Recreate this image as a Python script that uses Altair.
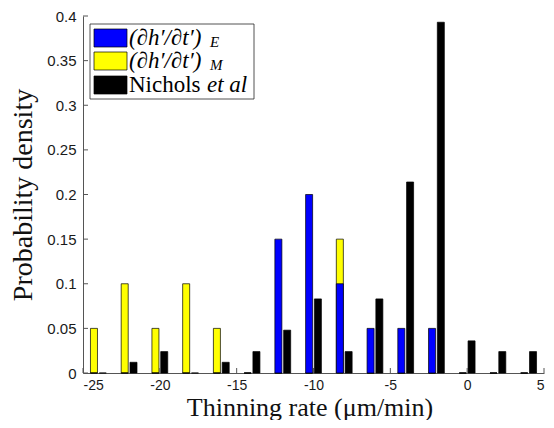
import altair as alt
import pandas as pd

# ---- data ----
bin_centers = [-24, -22, -20, -18, -16, -14, -12, -10, -8, -6, -4, -2, 0, 2, 4]
rate_E = [0, 0, 0, 0, 0, 0, 0.15, 0.2, 0.1, 0.05, 0.05, 0.05, 0, 0, 0]
rate_M = [0.05, 0.1, 0.05, 0.1, 0.05, 0, 0, 0, 0.15, 0, 0, 0, 0, 0, 0]
nichols = [0, 0.012, 0.024, 0, 0.012, 0.024, 0.048, 0.083, 0.024, 0.083,
           0.214, 0.393, 0.036, 0.024, 0.024]
x_ticks = [-25, -20, -15, -10, -5, 0, 5]
y_ticks = [0, 0.05, 0.1, 0.15, 0.2, 0.25, 0.3, 0.35, 0.4]
legend_main = ["(∂h′/∂t′)", "(∂h′/∂t′)", "Nichols"]
legend_sub = ["E", "M", ""]
legend_colors = ["#0000ff", "#ffff00", "#000000"]

W, H = 461, 357
AX = "#555555"
SERIF = "Liberation Serif"
SANS = "Liberation Sans"

xscale = alt.Scale(domain=[-25, 5], nice=False, zero=False)
yscale = alt.Scale(domain=[0, 0.4], nice=False, zero=True)

xax = alt.Axis(values=x_ticks, labelExpr="'' + datum.value", ticks=False,
               grid=False, domainColor=AX, domainWidth=1,
               labelFont=SANS, labelFontSize=14, labelColor="#1a1a1a",
               labelPadding=5, title="Thinning rate (μm/min)",
               titleFont=SERIF, titleFontSize=26, titleFontWeight="normal",
               titleColor="#111111", titleBaseline="alphabetic",
               titleY=42, titleX=W / 2 - 4, titleAlign="center")
yax = alt.Axis(values=y_ticks, labelExpr="'' + datum.value", ticks=False,
               grid=False, domainColor=AX, domainWidth=1,
               labelFont=SANS, labelFontSize=15, labelColor="#1a1a1a",
               labelPadding=7, title="Probability density",
               titleFont=SERIF, titleFontSize=28, titleFontWeight="normal",
               titleColor="#111111", titleBaseline="alphabetic",
               titleAngle=270, titleX=-52, titleY=H / 2, titleAlign="center")

OFF = 0.286
HALF = 0.2285


def bars(values, color, offset):
    df = pd.DataFrame({"c": bin_centers, "v": values})
    return (
        alt.Chart(df)
        .transform_calculate(lo=f"datum.c + ({offset}) - {HALF}",
                             hi=f"datum.c + ({offset}) + {HALF}")
        .mark_rect(fill=color, stroke="#000000", strokeWidth=0.7)
        .encode(
            x=alt.X("lo:Q", scale=xscale, axis=xax),
            x2="hi:Q",
            y=alt.Y("v:Q", scale=yscale, axis=yax),
            y2=alt.datum(0),
        )
    )


layers = [
    bars(rate_M, "#ffff00", -OFF),
    bars(rate_E, "#0000ff", -OFF),
    bars(nichols, "#000000", OFF),
]

# inward tick marks (MATLAB style)
xt = alt.Chart(pd.DataFrame({"t": x_ticks})).mark_rule(color=AX, strokeWidth=1).encode(
    x=alt.X("t:Q", scale=xscale, axis=xax), y=alt.value(H), y2=alt.value(H - 5))
yt = alt.Chart(pd.DataFrame({"t": y_ticks})).mark_rule(color=AX, strokeWidth=1).encode(
    y=alt.Y("t:Q", scale=yscale, axis=yax), x=alt.value(0), x2=alt.value(5))
layers += [xt, yt]

# legend box
one = pd.DataFrame({"a": [0]})
layers.append(
    alt.Chart(one).mark_rect(fill="white", stroke="#262626", strokeWidth=0.8).encode(
        x=alt.value(7), x2=alt.value(171), y=alt.value(8), y2=alt.value(83))
)
row_y = [22, 45, 69]
for i in range(3):
    ry = row_y[i]
    layers.append(
        alt.Chart(one).mark_rect(fill=legend_colors[i], stroke="#000000", strokeWidth=0.7).encode(
            x=alt.value(11), x2=alt.value(44), y=alt.value(ry - 9), y2=alt.value(ry + 9))
    )
    style = "italic" if legend_sub[i] else "normal"
    layers.append(
        alt.Chart(one).mark_text(align="left", baseline="middle", font=SERIF, fontSize=23,
                                 fontStyle=style, color="#000000", text=legend_main[i]).encode(
            x=alt.value(46), y=alt.value(ry))
    )
    if legend_sub[i]:
        layers.append(
            alt.Chart(one).mark_text(align="left", baseline="middle", font=SERIF, fontSize=15,
                                     fontStyle="italic", color="#000000", text=legend_sub[i]).encode(
                x=alt.value(127), y=alt.value(ry + 4))
        )
    else:
        layers.append(
            alt.Chart(one).mark_text(align="left", baseline="middle", font=SERIF, fontSize=23,
                                     fontStyle="italic", color="#000000", text="et al").encode(
                x=alt.value(124), y=alt.value(ry))
        )

chart = alt.layer(*layers).properties(
    width=W, height=H,
    autosize=alt.AutoSizeParams(type="none"),
    padding={"left": 75, "top": 8, "right": 2, "bottom": 47},
).configure_view(stroke=None)

chart.save("out.html", embed_options={"renderer": "svg", "actions": False})
